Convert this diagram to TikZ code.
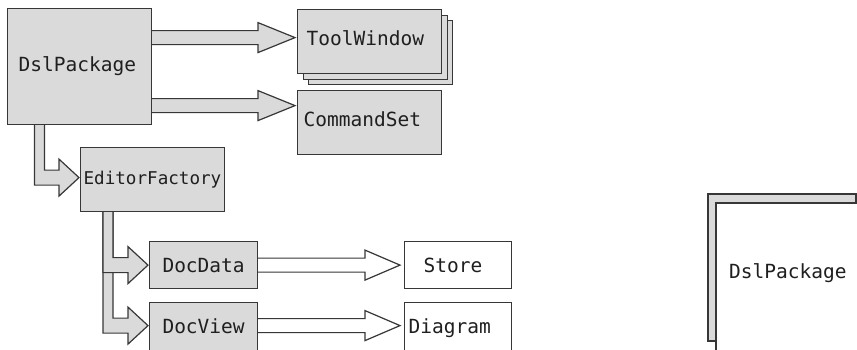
\documentclass[tikz,border=0pt]{standalone}
\usepackage{fontspec}
\setmonofont{DejaVu Sans Mono}
\usetikzlibrary{calc,backgrounds}

\definecolor{boxgray}{RGB}{218,218,218}
\definecolor{linegray}{RGB}{55,55,55}

% straight block arrow: style, start, tip, head length
\newcommand{\rightblock}[4]{%
  \draw[#1] let \p1=(#2), \p2=(#3) in
    (\x1,\y2+7) -- (\x2-#4,\y2+7) -- (\x2-#4,\y2+15) -- (\x2,\y2)
    -- (\x2-#4,\y2-15) -- (\x2-#4,\y2-7) -- (\x1,\y2-7);}
% bent block arrow (down, then right): style, start, tip
\newcommand{\bentblock}[3]{%
  \draw[#1] let \p1=(#2), \p2=(#3) in
    (\x1-5,\y1) -- (\x1-5,\y2-7.5) -- (\x2-20,\y2-7.5) -- (\x2-20,\y2-18.5)
    -- (\x2,\y2) -- (\x2-20,\y2+18.5) -- (\x2-20,\y2+7.5) -- (\x1+5,\y2+7.5) -- (\x1+5,\y1);}

\begin{document}
\begin{tikzpicture}[x=1pt, y=1pt,
    box/.style={draw=linegray, line width=1.2pt, fill=boxgray, rectangle, inner sep=0pt, anchor=north west,
      text=black!88, font=\ttfamily\fontsize{19.5}{22}\selectfont},
    bigbox/.style={box, align=left, minimum width=144, minimum height=64, inner xsep=#1, text width=144-2*#1},
    smallbox/.style={box, minimum width=108, minimum height=47},
    whitebox/.style={box, fill=white, align=left, minimum width=107, minimum height=47, inner xsep=#1, text width=107-2*#1},
    grayblock/.style={draw=linegray, line width=1.2pt, fill=boxgray, line join=miter},
    whiteblock/.style={grayblock, fill=white}
]
\useasboundingbox (0,0) rectangle (857,-349);
\clip (0,0) rectangle (857,-349);

% Pacote principal
\node[bigbox=11, minimum height=116] (dsl) at (7,-8) {DslPackage};

% Janelas de ferramenta (pilha)
\node[bigbox=9] (tw3) at (308,-20) {};
\node[bigbox=9] (tw2) at (302.5,-14.5) {};
\node[bigbox=9, text depth=8pt] (tw) at (297,-9) {ToolWindow};
\node[bigbox=6, text depth=8pt] (cs) at (297,-90) {CommandSet};

% Fabrica e documentos
\node[bigbox=3, font=\ttfamily\fontsize{17.6}{20}\selectfont] (ef) at (80,-147) {EditorFactory};
\node[smallbox] (dd) at (149,-241) {DocData};
\node[smallbox, minimum height=52, text depth=6pt] (dv) at (149,-302) {DocView};
\node[whitebox=19] (st) at (404,-241) {Store};
\node[whitebox=4, minimum height=52, text depth=6pt] (dg) at (404,-302) {Diagram};

% Setas
\begin{scope}[on background layer]
\rightblock{grayblock}{dsl.east}{$(tw.west)+(-2,4)$}{37}
\rightblock{grayblock}{dsl.east}{$(cs.west)+(-2,17)$}{37}
\bentblock{grayblock}{$(dsl.south west)+(32.5,0)$}{$(ef.west)+(-1,2)$}
\bentblock{grayblock}{$(ef.south west)+(28,0)$}{$(dv.west)+(-1,3)$}
\bentblock{grayblock}{$(ef.south west)+(28,0)$}{$(dd.west)+(-1,0)$}
\rightblock{whiteblock}{dd.east}{$(st.west)+(-4,0)$}{35}
\rightblock{whiteblock}{dv.east}{$(dg.west)+(-4,3)$}{35}
\end{scope}

% Pacote (detalhe a direita)
\draw[grayblock] (708,-194) rectangle (856,-341);
\draw[whiteblock] (716,-203) rectangle (880,-370);
\node[anchor=west, inner sep=0pt, text=black!88, font=\ttfamily\fontsize{19.5}{22}\selectfont] (dslright) at (729,-273) {DslPackage};

\end{tikzpicture}
\end{document}
